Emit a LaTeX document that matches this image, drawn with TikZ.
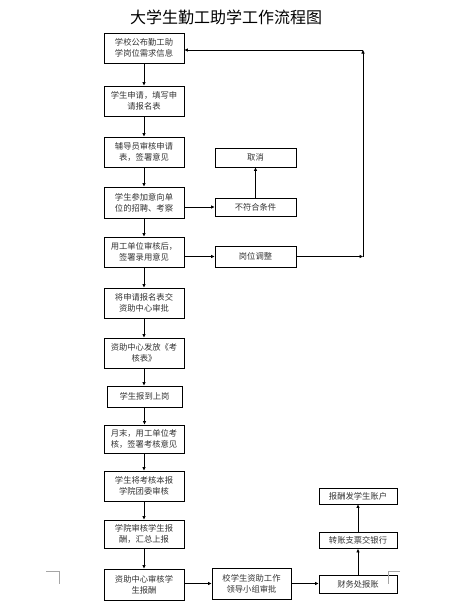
\documentclass[tikz,border=0pt]{standalone}
\usepackage{fontspec}
\setmainfont{Noto Sans CJK SC}
\usetikzlibrary{arrows.meta}
\begin{document}
\begin{tikzpicture}[x=1pt,y=-1pt,
  box/.style={draw=black,line width=0.9pt,inner sep=1pt,align=center,font=\fontsize{8.3}{11}\selectfont,text=black!80},
  arr/.style={line width=0.8pt,-{Triangle[length=3.5pt,width=3pt]}},
  cornermark/.style={draw=black!35,line width=0.6pt}]
\useasboundingbox (0,0) rectangle (449,608);
\node[font=\fontsize{16}{18}\selectfont] (title) at (226,17) {大学生勤工助学工作流程图};
% main column
\node[box,minimum width=80pt,minimum height=30pt] (b1) at (144,48) {学校公布勤工助\\学岗位需求信息};
\node[box,minimum width=80pt,minimum height=30pt] (b2) at (144,101) {学生申请，填写申\\请报名表};
\node[box,minimum width=80pt,minimum height=30pt] (b3) at (144,152) {辅导员审核申请\\表，签署意见};
\node[box,minimum width=80pt,minimum height=31pt] (b4) at (144,202.5) {学生参加意向单\\位的招聘、考察};
\node[box,minimum width=80pt,minimum height=30pt] (b5) at (144,252) {用工单位审核后，\\签署录用意见};
\node[box,minimum width=80pt,minimum height=30pt] (b6) at (144,303) {将申请报名表交\\资助中心审批};
\node[box,minimum width=80pt,minimum height=30pt] (b7) at (144,353) {资助中心发放《考\\核表》};
\node[box,minimum width=75pt,minimum height=21pt] (b8) at (144.5,396.5) {学生报到上岗};
\node[box,minimum width=80pt,minimum height=28pt] (b9) at (144,439) {月末，用工单位考\\核，签署考核意见};
\node[box,minimum width=80pt,minimum height=30pt] (b10) at (144,486) {学生将考核本报\\学院团委审核};
\node[box,minimum width=80pt,minimum height=28pt] (b11) at (144,534) {学院审核学生报\\酬，汇总上报};
\node[box,minimum width=80pt,minimum height=31pt] (b12) at (144,584.5) {资助中心审核学\\生报酬};
% side column
\node[box,minimum width=81pt,minimum height=19pt] (c1) at (255.5,157.5) {取消};
\node[box,minimum width=81pt,minimum height=18pt] (c2) at (255.5,207) {不符合条件};
\node[box,minimum width=81pt,minimum height=21pt] (c3) at (255.5,256.5) {岗位调整};
% bottom row
\node[box,minimum width=79pt,minimum height=31pt] (d1) at (251.5,583.5) {校学生资助工作\\领导小组审批};
\node[box,minimum width=78pt,minimum height=18pt] (e1) at (358,584) {财务处报账};
\node[box,minimum width=78pt,minimum height=16pt] (e2) at (358,540.5) {转账支票交银行};
\node[box,minimum width=78pt,minimum height=16pt] (e3) at (358,496) {报酬发学生账户};
% return path corners
\coordinate (r1) at (363,256.5);
\coordinate (r2) at (363,50);
% arrows main column
\foreach \a/\b in {b1/b2,b2/b3,b3/b4,b4/b5,b5/b6,b6/b7,b7/b8,b8/b9,b9/b10,b10/b11,b11/b12}
  \draw[arr] (\a.south) -- (\a.south |- \b.north);
\draw[arr] (b4.east |- c2.west) -- (c2.west);
\draw[arr] (c2.north) -- (c1.south);
\draw[arr] (b5.east |- c3.west) -- (c3.west);
\draw[arr] (c3.east) -- (r1);
\draw[arr] (r1) -- (r2);
\draw[arr] (r2) -- (b1.east |- r2);
\draw[arr] (b12.east |- d1.west) -- (d1.west);
\draw[arr] (d1.east) -- (e1.west |- d1.east);
\draw[arr] (e1.north) -- (e2.south);
\draw[arr] (e2.north) -- (e3.south);
% page corner marks
\draw[cornermark] (46,571) -- (59,571) -- (59,584);
\draw[cornermark] (400,571) -- (388,571) -- (388,584);
\end{tikzpicture}
\end{document}
